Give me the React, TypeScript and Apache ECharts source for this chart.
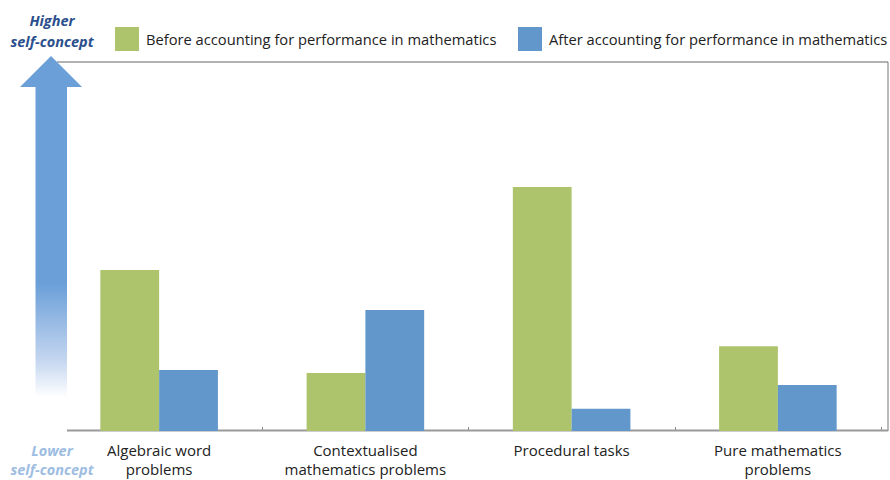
import React, { useEffect, useRef } from "react";
import * as echarts from "echarts";

const categories = [
  "Algebraic word\nproblems",
  "Contextualised\nmathematics problems",
  "Procedural tasks",
  "Pure mathematics\nproblems",
];
const seriesNames = [
  "Before accounting for performance in mathematics",
  "After accounting for performance in mathematics",
];
const beforeValues = [43.6, 15.7, 66.1, 23.0];
const afterValues = [16.5, 32.8, 6.0, 12.5];

const GREEN = "#adc46c";
const BLUE = "#6297cb";
const FONT = "'Open Sans', 'Noto Sans', sans-serif";

export default function App() {
  const ref = useRef<HTMLDivElement>(null);
  useEffect(() => {
    const chart = echarts.init(ref.current!, null, { renderer: "svg" });
    const legendText = {
      fontFamily: FONT,
      fontSize: 14.7,
      color: "#222",
      padding: [0, 0, 0, 2],
    };
    chart.setOption({
      animation: false,
      backgroundColor: "#ffffff",
      textStyle: { fontFamily: FONT },
      grid: { left: 56, right: 9, top: 62, bottom: 49, containLabel: false },
      legend: [
        {
          data: [seriesNames[0]],
          left: 115,
          top: 27,
          padding: 0,
          itemWidth: 24,
          itemHeight: 24,
          itemGap: 7,
          icon: "rect",
          textStyle: legendText,
        },
        {
          data: [seriesNames[1]],
          left: 518,
          top: 27,
          padding: 0,
          itemWidth: 24,
          itemHeight: 24,
          itemGap: 7,
          icon: "rect",
          textStyle: legendText,
        },
      ],
      xAxis: {
        type: "category",
        data: categories,
        axisLine: { show: false },
        axisTick: { show: true, length: 4, inside: true, lineStyle: { color: "#888" } },
        axisLabel: {
          margin: 9,
          fontFamily: FONT,
          fontSize: 15,
          color: "#222",
          lineHeight: 19,
          interval: 0,
        },
      },
      yAxis: {
        type: "value",
        min: 0,
        max: 100,
        show: false,
        splitLine: { show: false },
      },
      series: [
        {
          name: seriesNames[0],
          type: "bar",
          data: beforeValues,
          itemStyle: { color: GREEN },
          barGap: "0%",
          barCategoryGap: "43%",
        },
        {
          name: seriesNames[1],
          type: "bar",
          data: afterValues,
          itemStyle: { color: BLUE },
          barGap: "0%",
          barCategoryGap: "43%",
        },
      ],
      graphic: [
        {
          type: "line",
          shape: { x1: 57, y1: 62, x2: 888, y2: 62 },
          style: { stroke: "#666", lineWidth: 1.2 },
          z: 1,
        },
        {
          type: "line",
          shape: { x1: 888, y1: 62, x2: 888, y2: 431 },
          style: { stroke: "#777", lineWidth: 1 },
          z: 1,
        },
        {
          type: "line",
          shape: { x1: 67, y1: 430.5, x2: 888, y2: 430.5 },
          style: { stroke: "#999", lineWidth: 2 },
          z: 1,
        },
        {
          type: "polygon",
          shape: {
            points: [
              [51, 56],
              [82, 87],
              [67, 87],
              [67, 435],
              [35.5, 435],
              [35.5, 87],
              [20, 87],
            ],
          },
          style: {
            fill: new echarts.graphic.LinearGradient(0, 0, 0, 1, [
              { offset: 0, color: "#6a9fd8" },
              { offset: 0.6, color: "#6a9fd8" },
              { offset: 0.8, color: "#c3d5ef" },
              { offset: 0.9, color: "#ffffff" },
              { offset: 1, color: "#ffffff" },
            ]),
          },
          z: 10,
        },
        {
          type: "text",
          x: 52,
          y: 10,
          style: {
            text: "Higher\nself-concept",
            fontFamily: FONT,
            fontSize: 14.5,
            fontWeight: "bold",
            fontStyle: "italic",
            fill: "#2b4f8c",
            align: "center",
            verticalAlign: "top",
            lineHeight: 21,
          },
          z: 10,
        },
        {
          type: "text",
          x: 52,
          y: 441,
          style: {
            text: "Lower\nself-concept",
            fontFamily: FONT,
            fontSize: 14.5,
            fontWeight: "bold",
            fontStyle: "italic",
            fill: "#9dbde2",
            align: "center",
            verticalAlign: "top",
            lineHeight: 19,
          },
          z: 10,
        },
      ],
    });
    return () => chart.dispose();
  }, []);
  return (
    <div
      ref={ref}
      style={{ width: 890, height: 480, position: "fixed", left: 0, top: 0 }}
    />
  );
}
